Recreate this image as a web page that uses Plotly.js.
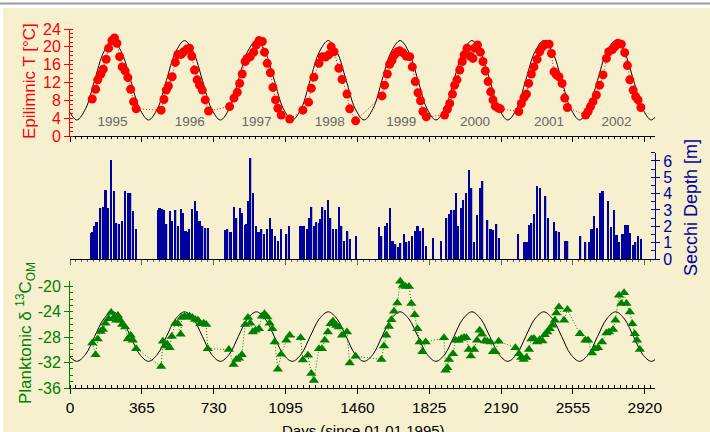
<!DOCTYPE html>
<html>
<head>
<meta charset="utf-8">
<script src="https://cdn.plot.ly/plotly-3.0.1.min.js"></script>
<style>html,body{margin:0;padding:0;background:#fff;}#chart{width:710px;height:432px;}</style>
</head>
<body>
<div id="chart"></div>
<script>
// ---- Epilimnic temperature (red dots) ----
const tDays = [113,130,141,157,169,184,196,213,226,238,252,265,280,294,308,323,336,
  463,477,489,500,519,535,548,565,578,594,607,619,633,646,658,672,687,704,
  811,833,850,862,875,890,900,916,933,946,960,977,988,1002,1018,1031,1044,1056,1073,1116,
  1183,1212,1226,1239,1265,1282,1298,1314,1327,1341,1366,1382,1407,1421,1451,
  1585,1598,1612,1624,1636,1649,1663,1675,1691,1709,1726,1739,1754,1768,1781,1793,1810,
  1903,1917,1929,1943,1954,1966,1980,1993,2002,2017,2034,2047,2056,2070,2085,2098,2110,2124,2137,2149,2161,2174,2186,
  2280,2293,2306,2319,2330,2344,2357,2373,2386,2400,2417,2434,2446,2459,2471,2484,2500,2513,2527,
  2620,2632,2644,2657,2674,2691,2708,2725,2737,2756,2768,2784,2801,2818,2832,2844,2861,2874,2886,2900];
const tVals = [8.3,10.5,12.6,13.9,15.0,17.2,19.7,21.4,22.0,20.8,17.8,15.5,14.6,13.1,10.5,7.7,6.1,
  5.8,8.2,10.3,11.2,13.3,16.5,18.3,18.3,18.9,19.5,19.7,17.9,14.8,12.6,11.4,10.3,8.1,5.6,
  6.6,8.5,9.8,11.8,13.9,16.7,17.4,17.8,18.8,20.4,21.4,21.2,18.8,16.3,14.2,10.9,8.1,6.2,4.7,3.8,
  5.8,7.6,10.7,13.2,16.3,17.8,17.7,18.2,20.0,18.9,15.2,12.7,9.4,6.1,3.4,
  9.0,11.4,13.9,16.1,17.0,18.2,18.9,19.1,18.7,17.9,17.8,15.5,12.2,9.7,7.9,5.5,4.3,
  4.7,6.0,7.3,9.4,11.4,12.6,14.8,16.7,18.2,19.7,17.9,17.4,19.7,20.4,18.8,16.7,14.6,12.2,9.9,8.1,6.7,6.3,6.1,
  5.5,7.3,8.6,9.4,11.8,13.9,15.5,17.2,18.9,20.0,20.6,20.6,18.5,14.4,13.7,13.3,11.8,8.5,6.4,
  4.7,5.5,6.6,7.7,9.2,11.4,13.7,17.4,18.9,19.4,20.0,20.8,20.6,18.7,15.8,12.6,10.3,8.8,8.1,6.4];

// ---- seasonal model curves ----
const curveDays = [-12,
  34,80,125,171,217,262,308,353,
  399,445,490,536,582,627,673,718,
  764,810,855,901,947,992,1038,1083,
  1129,1175,1220,1266,1312,1357,1403,1448,
  1494,1540,1585,1631,1677,1722,1768,1813,
  1859,1905,1950,1996,2042,2087,2133,2178,
  2224,2270,2315,2361,2407,2452,2498,2543,
  2589,2635,2680,2726,2772,2817,2863,2908,
  2954,3000];
const curveT = [6.2,
  3.6,6.2,12.5,18.8,21.4,18.8,12.5,6.2,
  3.6,6.2,12.5,18.8,21.4,18.8,12.5,6.2,
  3.6,6.2,12.5,18.8,21.4,18.8,12.5,6.2,
  3.6,6.2,12.5,18.8,21.4,18.8,12.5,6.2,
  3.6,6.2,12.5,18.8,21.4,18.8,12.5,6.2,
  3.6,6.2,12.5,18.8,21.4,18.8,12.5,6.2,
  3.6,6.2,12.5,18.8,21.4,18.8,12.5,6.2,
  3.6,6.2,12.5,18.8,21.4,18.8,12.5,6.2,
  3.6,6.2];
const curveC = [-30.66,
  -31.8,-30.66,-27.9,-25.14,-24.0,-25.14,-27.9,-30.66,
  -31.8,-30.66,-27.9,-25.14,-24.0,-25.14,-27.9,-30.66,
  -31.8,-30.66,-27.9,-25.14,-24.0,-25.14,-27.9,-30.66,
  -31.8,-30.66,-27.9,-25.14,-24.0,-25.14,-27.9,-30.66,
  -31.8,-30.66,-27.9,-25.14,-24.0,-25.14,-27.9,-30.66,
  -31.8,-30.66,-27.9,-25.14,-24.0,-25.14,-27.9,-30.66,
  -31.8,-30.66,-27.9,-25.14,-24.0,-25.14,-27.9,-30.66,
  -31.8,-30.66,-27.9,-25.14,-24.0,-25.14,-27.9,-30.66,
  -31.8,-30.66];

// ---- year labels ----
const yearLabels = ['1995','1996','1997','1998','1999','2000','2001','2002'];
const yearDays = [216,608,947,1320,1683,2058,2433,2776];
const yearLabelT = [3,3,3,3,3,3,3,3];

// ---- Secchi depth (bars) ----
const secchiDays = [108,113,123,135,154,167,180,194,209,223,235,248,265,280,294,306,319,336,
  446,455,467,477,489,506,518,535,548,562,573,587,599,604,619,633,646,658,672,687,701,
  790,799,811,819,833,845,862,873,887,892,904,916,929,946,958,972,985,1000,1014,1027,1041,1056,1070,1099,1112,
  1170,1180,1189,1204,1214,1226,1238,1251,1265,1271,1282,1294,1310,1322,1336,1353,1365,1378,1392,1409,1421,1451,
  1568,1582,1599,1611,1624,1638,1653,1666,1678,1695,1709,1722,1737,1751,1765,1780,1793,1807,1844,1883,
  1912,1926,1937,1949,1959,1971,1985,1997,2010,2025,2039,2053,2068,2081,2095,2120,2136,2149,2166,2180,
  2276,2305,2319,2332,2344,2358,2373,2386,2415,2429,2458,2471,2485,2514,2527,
  2593,2618,2635,2649,2662,2678,2691,2705,2733,2747,2762,2776,2789,2807,2822,2832,2844,2861,2872,2886,2900];
const secchiDepth = [1.6,1.65,2.0,2.25,3.1,3.2,4.25,3.1,6.07,4.15,2.2,2.15,2.3,4.15,4.05,4.05,2.95,1.85,
  3.0,3.1,3.05,3.0,2.15,2.95,2.35,3.0,2.0,3.05,2.8,1.7,1.65,1.85,3.05,3.55,2.95,2.35,2.0,1.9,1.9,
  1.8,1.85,1.64,1.64,3.17,2.5,3.1,2.8,2.1,2.15,3.55,6.18,4.05,2.0,1.65,1.85,1.53,1.85,2.5,1.85,1.43,1.12,1.85,1.53,2.0,
  2.0,2.0,2.0,1.85,2.5,3.17,2.0,2.25,2.2,2.45,3.2,3.0,3.64,2.5,1.85,1.85,3.2,2.0,1.08,1.7,1.23,1.4,
  1.94,1.38,2.0,2.2,3.13,1.12,0.92,0.72,0.98,1.53,1.02,1.12,1.38,1.74,2.0,1.74,1.9,0.78,1.29,1.08,
  2.5,2.76,2.97,3.0,4.05,2.0,3.13,3.64,4.05,5.46,4.36,1.02,2.72,4.36,4.76,2.41,1.84,1.8,2.15,1.29,
  1.53,1.06,1.06,2.1,2.2,2.76,4.46,4.36,3.85,2.5,2.25,1.7,1.64,1.12,1.12,
  1.38,1.02,1.02,1.84,2.62,1.9,4.05,4.15,3.55,1.94,2.97,1.49,1.02,1.53,2.1,2.1,1.6,0.88,1.02,1.38,1.22];

// ---- Planktonic d13C (green triangles) ----
const cDays = [113,130,141,155,167,180,196,209,223,235,243,255,265,280,294,308,319,336,
  463,472,484,494,506,517,535,548,562,568,582,596,607,621,636,650,663,679,692,700,
  807,831,845,858,873,890,904,916,929,943,960,975,988,1002,1014,1028,1040,1056,1073,1099,1116,
  1172,1183,1209,1226,1239,1265,1280,1294,1310,1324,1336,1353,1366,1382,1407,1421,1451,
  1582,1595,1607,1620,1633,1646,1663,1678,1691,1705,1722,1734,1751,1765,1776,1790,1807,
  1900,1908,1917,1925,1946,1959,1975,1988,2002,2014,2026,2036,2053,2068,2081,2093,2107,2120,2136,2149,2161,2178,
  2263,2281,2293,2305,2319,2332,2344,2357,2373,2386,2400,2412,2425,2437,2451,2463,2471,2484,2510,2527,
  2590,2618,2632,2652,2666,2683,2703,2725,2738,2759,2771,2789,2801,2815,2827,2844,2857,2869,2881,2895];
const cVals = [-28.9,-30.75,-28.3,-27.1,-26.8,-25.8,-25.1,-24.1,-24.9,-25.35,-24.6,-25.35,-26.0,-26.4,-28.3,-27.7,-28.5,-29.8,
  -32.6,-28.65,-29.4,-29.1,-29.65,-27.9,-25.8,-25.9,-27.55,-24.9,-24.7,-24.8,-24.7,-24.9,-25.2,-25.35,-25.9,-25.8,-26.0,-29.8,
  -29.95,-32.3,-31.5,-31.3,-30.75,-26.0,-24.9,-25.8,-27.2,-26.9,-26.65,-24.7,-24.3,-24.8,-25.8,-26.65,-28.75,-33.05,-30.7,-28.5,-27.7,
  -28.1,-31.6,-30.85,-33.7,-34.8,-29.8,-29.8,-28.5,-27.2,-25.9,-25.5,-26.15,-26.4,-27.7,-27.2,-32.05,-31.0,
  -31.5,-29.4,-27.7,-26.3,-25.25,-23.9,-22.6,-19.2,-19.85,-20.0,-20.0,-22.7,-24.45,-26.65,-28.75,-30.3,-28.75,
  -28.1,-33.2,-32.8,-31.5,-30.6,-28.5,-28.5,-28.2,-28.05,-28.1,-29.95,-30.95,-29.95,-28.5,-26.9,-27.55,-28.6,-28.65,-28.75,-30.3,-30.3,-28.65,
  -29.65,-30.6,-31.2,-31.5,-31.2,-29.95,-28.3,-28.2,-28.75,-28.4,-28.6,-27.6,-27.2,-26.65,-26.1,-25.35,-24.2,-23.25,-25.35,-23.65,
  -27.45,-28.5,-28.5,-30.5,-29.8,-29.65,-28.75,-27.35,-27.2,-26.8,-25.35,-21.4,-22.7,-21.0,-22.7,-24.05,-25.9,-27.45,-28.5,-29.95];

// ---- tick labels ----
const dayTicks = [0,365,730,1095,1460,1825,2190,2555,2920];
const dayTickText = ['0','365','730','1095','1460','1825','2190','2555','2920'];
const tTicks = [0,4,8,12,16,20,24];
const secchiTicks = [0,1,2,3,4,5,6];
const cTicks = [-36,-32,-28,-24,-20];
const cTickText = ['-36','-32','-28','-24','-20'];

// ---- styling ----
const FONT = 'Arial, "Liberation Sans", sans-serif';
const RED = '#ff0000', BLUE = '#0000a0', GREEN = '#008000';
const XR = [0, 2972];

const traces = [
  {x: curveDays, y: curveT, xaxis:'x', yaxis:'y', mode:'lines', line:{color:'#000', width:1, shape:'spline'}, hoverinfo:'skip'},
  {x: tDays, y: tVals, xaxis:'x', yaxis:'y', mode:'lines+markers', cliponaxis:false,
   line:{color:RED, width:1, dash:'1px,2px'}, marker:{color:RED, size:9}},
  {x: yearDays, y: yearLabelT, text: yearLabels, xaxis:'x', yaxis:'y', mode:'text',
   textfont:{family:FONT, size:13.5, color:'#666666'}, textposition:'middle center', hoverinfo:'skip'},
  {type:'bar', x: secchiDays, y: secchiDepth, xaxis:'x2', yaxis:'y2', width:11, offset:-4.5,
   marker:{color:'#bdb9a6', line:{width:0}}, hoverinfo:'skip'},
  {type:'bar', x: secchiDays, y: secchiDepth, xaxis:'x2', yaxis:'y2', width:11, offset:-5.5,
   marker:{color:BLUE, line:{width:0}}},
  {x: curveDays, y: curveC, xaxis:'x3', yaxis:'y3', mode:'lines', line:{color:'#000', width:1, shape:'spline'}, hoverinfo:'skip'},
  {x: cDays, y: cVals, xaxis:'x3', yaxis:'y3', mode:'lines+markers', cliponaxis:false,
   line:{color:GREEN, width:1, dash:'1px,2px'}, marker:{color:GREEN, size:9, symbol:'triangle-up'}}
];

const baseX = {range: XR, showgrid:false, zeroline:false, showline:true, linecolor:'#000', linewidth:1,
  tickmode:'array', tickvals: dayTicks, ticktext: dayTickText, ticks:'outside', ticklen:5, tickcolor:'#000',
  minor:{tickmode:'linear', tick0:0, dtick:365/12, ticks:'outside', ticklen:2, tickcolor:'#000'}};

const layout = {
  width:710, height:432,
  margin:{l:70, r:55, t:29, b:44, pad:0},
  paper_bgcolor:'#f7f0ce', plot_bgcolor:'rgba(0,0,0,0)',
  showlegend:false, barmode:'overlay', bargap:0,
  font:{family:FONT, size:15, color:'#000'},
  xaxis: Object.assign({}, baseX, {anchor:'y', domain:[0,1], showticklabels:false}),
  yaxis: {domain:[0.7019,1], anchor:'x', range:[0,24], showgrid:false, zeroline:false,
    showline:true, linecolor:RED, linewidth:1, tickmode:'array', tickvals:tTicks,
    ticks:'outside', ticklen:5, tickcolor:RED, tickfont:{family:FONT, size:16, color:RED},
    minor:{tickmode:'linear', tick0:0, dtick:1, ticks:'inside', ticklen:3, tickcolor:RED}},
  xaxis2: Object.assign({}, baseX, {anchor:'y2', domain:[0,1], showticklabels:false, tickcolor:'#666', ticklen:5,
    minor:{tickmode:'linear', tick0:0, dtick:365/12, ticks:'outside', ticklen:2, tickcolor:'#666'}}),
  yaxis2: {domain:[0.3593,0.6552], anchor:'x2', side:'right', range:[0,6.5], showgrid:false, zeroline:false,
    showline:true, linecolor:BLUE, linewidth:1, tickmode:'array', tickvals:secchiTicks,
    ticks:'outside', ticklen:4, tickcolor:BLUE, tickfont:{family:FONT, size:16, color:BLUE},
    minor:{tickmode:'linear', tick0:0, dtick:0.5, ticks:'inside', ticklen:4, tickcolor:BLUE}},
  xaxis3: Object.assign({}, baseX, {anchor:'y3', domain:[0,1], showticklabels:true, tickfont:{family:FONT, size:15.5, color:'#000'},
    minor:{tickmode:'linear', tick0:0, dtick:365/12, ticks:'inside', ticklen:3, tickcolor:'#000'}}),
  yaxis3: {domain:[0,0.2989], anchor:'x3', range:[-36,-19.1], showgrid:false, zeroline:false,
    showline:true, linecolor:GREEN, linewidth:1, tickmode:'array', tickvals:cTicks, ticktext:cTickText,
    ticks:'outside', ticklen:5, tickcolor:GREEN, tickfont:{family:FONT, size:16, color:GREEN},
    minor:{tickmode:'linear', tick0:0, dtick:1, ticks:'inside', ticklen:3, tickcolor:GREEN}},
  shapes:[
    {type:'rect', xref:'paper', yref:'paper', x0:-0.2, x1:1.2, y0:1.0585, y1:1.2, fillcolor:'#ffffff', line:{width:0}, layer:'below'},
    {type:'rect', xref:'paper', yref:'paper', x0:-0.2, x1:-0.1145, y0:-0.2, y1:1.2, fillcolor:'#ffffff', line:{width:0}, layer:'below'},
    {type:'line', xref:'paper', yref:'paper', x0:-0.2, x1:1.2, y0:1.0710, y1:1.0710, line:{color:'#9a9a9a', width:2}}
  ],
  annotations:[
    {xref:'paper', yref:'paper', x:-0.0684, y:0.8552, text:'Epilimnic T [°C]', textangle:-90, showarrow:false,
     xanchor:'center', yanchor:'middle', font:{family:FONT, size:17, color:RED}},
    {xref:'paper', yref:'paper', x:1.0615, y:0.5042, text:'Secchi Depth [m]', textangle:-90, showarrow:false,
     xanchor:'center', yanchor:'middle', font:{family:FONT, size:18, color:BLUE}},
    {xref:'paper', yref:'paper', x:-0.0769, y:0.1532, text:'Planktonic δ <sup>13</sup>C<sub>OM</sub>', textangle:-90, showarrow:false,
     xanchor:'center', yanchor:'middle', font:{family:FONT, size:17, color:GREEN}},
    {xref:'paper', yref:'paper', x:0.5009, y:-0.088, text:'Days (since 01.01.1995)', showarrow:false,
     xanchor:'center', yanchor:'top', font:{family:FONT, size:15, color:'#000'}}
  ]
};

Plotly.newPlot('chart', traces, layout, {displayModeBar:false, staticPlot:true});
</script>
</body>
</html>
